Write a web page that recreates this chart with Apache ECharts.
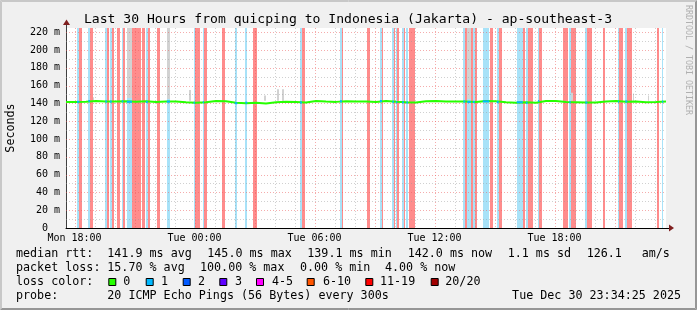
<!DOCTYPE html>
<html><head><meta charset="utf-8">
<script src="https://cdn.jsdelivr.net/npm/echarts@6/dist/echarts.min.js"></script>
<style>html,body{margin:0;padding:0;background:#f0f0f0;}#c{width:697px;height:310px;}</style>
</head><body><div id="c"></div>
<script>
// ---- data (time in hours since Mon 00:00) ----
const T0 = 17 + 34/60 + 25/3600;   // Mon 17:34:25
const T1 = T0 + 30;                // Tue 23:34:25
const xLabelHours = [18, 24, 30, 36, 42];
const yTicks = [0, 20, 40, 60, 80, 100, 120, 140, 160, 180, 200, 220];
const Y_MAX = 224.7;
const medianStepHours = 0.5;
const medianRtt = [
 141.5,141.8,142.6,142.2,142.0,142.3,141.8,142.4,141.6,142.2,
 142.0,141.2,140.8,141.2,142.6,142.3,140.6,140.2,140.8,140.0,
 141.4,141.8,141.6,141.0,142.6,142.0,141.7,142.4,142.0,142.1,
 141.5,142.7,141.9,141.2,141.0,142.4,142.8,142.2,142.0,142.1,
 141.6,142.6,142.3,141.4,140.8,141.3,140.6,142.6,142.8,141.5,
 141.4,141.0,140.9,142.0,142.6,141.8,142.2,141.3,141.6,142.0
];
// [start hour, end hour, lost pings]
const lossBars = [
 [18.12,18.24,1],[18.24,18.37,20],
 [18.69,18.77,1],[18.77,18.90,20],
 [19.54,19.62,1],[19.62,19.71,20],
 [19.77,19.86,1],[19.87,19.95,20],
 [20.14,20.27,20],
 [20.36,20.44,1],[20.44,20.54,20],
 [20.61,20.87,1],
 [20.87,21.30,20],
 [21.37,21.52,20],
 [21.57,21.66,1],[21.69,21.77,20],
 [22.12,22.27,20],
 [22.61,22.77,1],
 [23.95,24.02,1],[24.02,24.27,20],
 [24.41,24.47,1],[24.47,24.61,20],
 [25.37,25.51,20],
 [26.01,26.14,1],
 [26.54,26.64,1],
 [26.94,27.11,20],
 [29.27,29.37,1],[29.37,29.54,20],
 [31.27,31.37,1],[31.37,31.44,20],
 [32.64,32.77,20],
 [33.27,33.37,1],[33.37,33.44,20],
 [33.89,33.97,1],[33.97,34.04,20],[34.07,34.14,1],[34.14,34.21,20],
 [34.37,34.47,1],[34.47,34.54,20],[34.59,34.67,1],[34.71,35.01,20],
 [37.44,37.54,1],[37.54,37.64,20],[37.64,37.81,1],[37.84,37.91,20],[37.91,38.01,1],[38.01,38.11,20],
 [38.41,38.74,1],[38.77,38.94,20],[39.11,39.21,1],[39.21,39.37,20],
 [40.11,40.41,1],[40.41,40.54,20],[40.57,40.65,1],[40.65,40.91,20],[41.17,41.24,1],[41.24,41.37,20],
 [42.44,42.67,20],[42.74,42.81,1],[42.84,43.07,20],
 [43.54,43.64,1],[43.64,43.87,20],
 [44.41,44.51,20],
 [45.17,45.22,1],[45.22,45.44,20],[45.54,45.64,1],[45.64,45.87,20],
 [47.14,47.24,20],[47.37,47.44,1]
];
// smoke: [start hour, end hour, low ms, high ms]
const smoke = [
 [20.61,20.86,146,226],[22.61,22.77,145,226],[37.64,37.81,145,226],
 [18.90,18.98,143,147],[23.72,23.80,143,155],[27.47,27.55,143,149],
 [28.12,28.20,143,156],[28.37,28.45,143,156],[42.82,42.90,143,152],
 [45.90,45.98,143,151],[46.65,46.73,143,149]
];
const legendStats1 = ['median rtt:', '141.9 ms avg', '145.0 ms max', '139.1 ms min', '142.0 ms now', '1.1 ms sd', '126.1', 'am/s'];
const legendStats2 = ['packet loss:', '15.70 % avg', '100.00 % max', '0.00 % min', '4.00 % now'];
const lossLabels = ['0', '1', '2', '3', '4-5', '6-10', '11-19', '20/20'];
const lossColors = ['#26ff00', '#00b8ff', '#0059ff', '#5e00ff', '#ff00ff', '#ff5500', '#ff0000', '#a10000'];
const probeText = ['probe:', '20 ICMP Echo Pings (56 Bytes) every 300s'];
const dateText = 'Tue Dec 30 23:34:25 2025';
const titleText = 'Last 30 Hours from quicping to Indonesia (Jakarta) - ap-southeast-3';

// ---- styles ----
const FONT = 'DejaVu Sans Mono';
const PALE_CYAN = '#a8e2f8';
const PALE_RED = '#ff8c8c';
const SMOKE = '#d2d2d2';
const MGRID = 'rgba(235,90,90,0.5)';
const GRID = 'rgba(150,150,150,0.45)';

const hourGrid = [];
for (let h = Math.ceil(T0); h <= T1; h++) hourGrid.push(h);
const valueGrid = [];
for (let v = 10; v <= 220; v += 10) valueGrid.push(v);

const medianPoints = medianRtt.map((v, i) => [T0 + i * medianStepHours, v]);
medianPoints.push([T1, medianRtt[medianRtt.length - 1]]);
function medianAt(t) {
  let i = Math.floor((t - T0) / medianStepHours);
  i = Math.max(0, Math.min(medianRtt.length - 1, i));
  return medianRtt[i];
}
function hourLabel(h) {
  const day = h < 24 ? 'Mon' : 'Tue';
  return day + ' ' + String(h % 24).padStart(2, '0') + ':00';
}

const chart = echarts.init(document.getElementById('c'), null, {renderer: 'canvas'});
const option = {
  animation: false,
  backgroundColor: '#f0f0f0',
  grid: {left: 66, right: 31, top: 28, bottom: 82, show: true, backgroundColor: '#fff', borderWidth: 0},
  xAxis: {
    type: 'value', min: T0, max: T1,
    axisLine: {show: true, onZero: false, lineStyle: {color: '#000', width: 1}},
    axisTick: {show: false},
    splitLine: {show: false},
    axisLabel: {customValues: xLabelHours, formatter: hourLabel, fontFamily: FONT, fontSize: 10, color: '#000', margin: 5}
  },
  yAxis: {
    type: 'value', min: 0, max: Y_MAX, interval: 20,
    axisLine: {show: true, lineStyle: {color: '#404040', width: 1}},
    axisTick: {show: false},
    splitLine: {show: false},
    axisLabel: {customValues: yTicks, formatter: v => v === 0 ? '0  ' : v + ' m', fontFamily: FONT, fontSize: 10, color: '#000', margin: 6}
  },
  series: [
    { // loss background bars
      type: 'custom', z: 1, silent: true, clip: true,
      data: lossBars,
      renderItem(params, api) {
        const a = api.coord([api.value(0), Y_MAX]);
        const b = api.coord([api.value(1), 0]);
        const x0 = Math.round(a[0]), x1 = Math.max(Math.round(b[0]), x0 + 1);
        return {type: 'rect', shape: {x: x0, y: a[1], width: x1 - x0, height: b[1] - a[1]},
                style: {fill: api.value(2) === 1 ? PALE_CYAN : PALE_RED}};
      }
    },
    { // smoke
      type: 'custom', z: 2, silent: true, clip: true,
      data: smoke,
      renderItem(params, api) {
        const a = api.coord([api.value(0), Math.min(api.value(3), Y_MAX)]);
        const b = api.coord([api.value(1), api.value(2)]);
        const x0 = Math.round(a[0]), x1 = Math.max(Math.round(b[0]), x0 + 1);
        return {type: 'rect', shape: {x: x0, y: a[1], width: x1 - x0, height: b[1] - a[1]}, style: {fill: SMOKE}};
      }
    },
    { // vertical grid
      type: 'custom', z: 3, silent: true,
      data: hourGrid.map(h => [h]),
      renderItem(params, api) {
        const h = api.value(0);
        const a = api.coord([h, Y_MAX]);
        const b = api.coord([h, 0]);
        const x = Math.round(a[0]) + 0.5;
        return {type: 'line', shape: {x1: x, y1: a[1], x2: x, y2: b[1]},
                style: {stroke: h % 3 === 0 ? MGRID : GRID, lineWidth: 1, lineDash: [1, 2]}};
      }
    },
    { // horizontal grid
      type: 'custom', z: 3, silent: true,
      data: valueGrid.map(v => [T0, v]),
      renderItem(params, api) {
        const v = api.value(1);
        const a = api.coord([T0, v]);
        const b = api.coord([T1, v]);
        const y = Math.round(a[1]) + 0.5;
        return {type: 'line', shape: {x1: a[0], y1: y, x2: b[0], y2: y},
                style: {stroke: v % 20 === 0 ? MGRID : GRID, lineWidth: 1, lineDash: [1, 2]}};
      }
    },
    { // median rtt
      type: 'line', z: 5, silent: true, step: 'end', symbol: 'none',
      data: medianPoints,
      lineStyle: {color: '#26ff00', width: 2}
    },
    { // median colored by loss (1 lost ping)
      type: 'custom', z: 6, silent: true, clip: true,
      data: lossBars.filter(d => d[2] === 1),
      renderItem(params, api) {
        const t0 = api.value(0), t1 = api.value(1);
        const m = medianAt((t0 + t1) / 2);
        const a = api.coord([t0, m]);
        const b = api.coord([t1, m]);
        return {type: 'rect', shape: {x: a[0], y: a[1] - 1, width: b[0] - a[0], height: 2}, style: {fill: '#00b8ff'}};
      }
    }
  ]
};
chart.setOption(option);

// ---- decorations and legend text ----
const W = 697, H = 310;
const o = chart.convertToPixel({gridIndex: 0}, [T1, 0]);
const oy = chart.convertToPixel({gridIndex: 0}, [T0, Y_MAX]);
const gfx = [];
// 3D frame
gfx.push({type: 'polyline', shape: {points: [[0.5, H - 0.5], [0.5, 0.5], [W - 0.5, 0.5]]}, style: {stroke: '#c8c8c8', lineWidth: 1, fill: null}});
gfx.push({type: 'polyline', shape: {points: [[1.5, H - 1.5], [1.5, 1.5], [W - 1.5, 1.5]]}, style: {stroke: '#c8c8c8', lineWidth: 1, fill: null}});
gfx.push({type: 'polyline', shape: {points: [[0.5, H - 0.5], [W - 0.5, H - 0.5], [W - 0.5, 0.5]]}, style: {stroke: '#969696', lineWidth: 1, fill: null}});
gfx.push({type: 'polyline', shape: {points: [[1.5, H - 1.5], [W - 1.5, H - 1.5], [W - 1.5, 1.5]]}, style: {stroke: '#969696', lineWidth: 1, fill: null}});
// axis arrows
gfx.push({type: 'line', shape: {x1: o[0], y1: Math.round(o[1]) + 0.5, x2: o[0] + 3, y2: Math.round(o[1]) + 0.5}, style: {stroke: '#000', lineWidth: 1}});
gfx.push({type: 'polygon', shape: {points: [[o[0] + 3, o[1] - 3.5], [o[0] + 8, o[1]], [o[0] + 3, o[1] + 3.5]]}, style: {fill: '#7f1f1f'}});
gfx.push({type: 'line', shape: {x1: oy[0] + 0.5, y1: oy[1], x2: oy[0] + 0.5, y2: oy[1] - 3}, style: {stroke: '#404040', lineWidth: 1}});
gfx.push({type: 'polygon', shape: {points: [[oy[0] - 3, oy[1] - 3], [oy[0] + 0.5, oy[1] - 8.5], [oy[0] + 4, oy[1] - 3]]}, style: {fill: '#7f1f1f'}});
// title
gfx.push({type: 'text', x: 348, y: 19.5, style: {text: titleText, font: '13.1px ' + FONT, fill: '#000', textAlign: 'center', textVerticalAlign: 'middle'}});
// y name
gfx.push({type: 'text', x: 11, y: 128, rotation: Math.PI / 2, style: {text: 'Seconds', font: '11.7px ' + FONT, fill: '#000', textAlign: 'center', textVerticalAlign: 'middle'}});
// watermark
gfx.push({type: 'text', x: 688, y: 5, rotation: -Math.PI / 2, style: {text: 'RRDTOOL / TOBI OETIKER', font: '8.3px ' + FONT, fill: '#b0b0b0', textAlign: 'left', textVerticalAlign: 'middle'}});
// legend rows
const LF = '11.7px ' + FONT;
const row1X = [16, 107.3, 207.3, 307.3, 407.7, 507.7, 586.7, 641.7];
legendStats1.forEach((s, i) => gfx.push({type: 'text', x: row1X[i], y: 254, style: {text: s, font: LF, fill: '#000', textVerticalAlign: 'middle'}}));
const row2X = [16, 107.3, 200, 300, 385];
legendStats2.forEach((s, i) => gfx.push({type: 'text', x: row2X[i], y: 268, style: {text: s, font: LF, fill: '#000', textVerticalAlign: 'middle'}}));
gfx.push({type: 'text', x: 16, y: 282, style: {text: 'loss color:', font: LF, fill: '#000', textVerticalAlign: 'middle'}});
const boxX = [108.3, 145.7, 182.7, 219.3, 256, 306.7, 365.3, 430.7];
const labX = [123.3, 161, 198, 235, 272, 323, 380, 445.3];
lossLabels.forEach((s, i) => {
  gfx.push({type: 'rect', shape: {x: boxX[i] + 0.5, y: 278.5, width: 7, height: 7}, style: {fill: lossColors[i], stroke: '#000', lineWidth: 1}});
  gfx.push({type: 'text', x: labX[i], y: 282, style: {text: s, font: LF, fill: '#000', textVerticalAlign: 'middle'}});
});
gfx.push({type: 'text', x: 16, y: 296, style: {text: probeText[0], font: LF, fill: '#000', textVerticalAlign: 'middle'}});
gfx.push({type: 'text', x: 107.3, y: 296, style: {text: probeText[1], font: LF, fill: '#000', textVerticalAlign: 'middle'}});
gfx.push({type: 'text', x: 681, y: 296, style: {text: dateText, font: LF, fill: '#000', textAlign: 'right', textVerticalAlign: 'middle'}});
chart.setOption({graphic: gfx.map(g => Object.assign({silent: true, z: 100}, g))});
</script></body></html>
